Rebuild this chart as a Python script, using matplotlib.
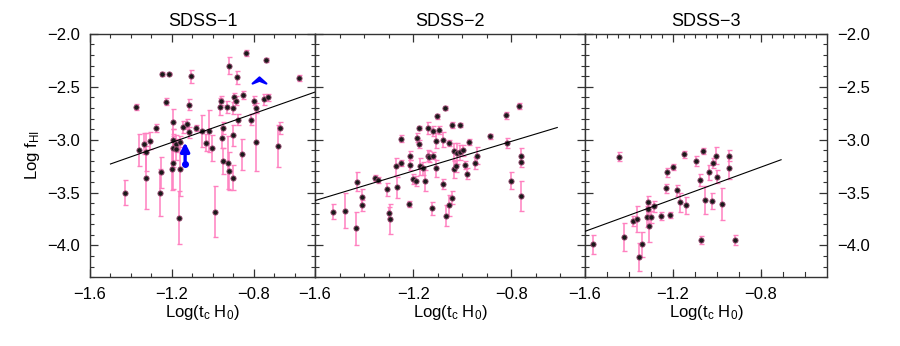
import numpy as np
import matplotlib
matplotlib.use("Agg")
import matplotlib.pyplot as plt
from matplotlib.ticker import MultipleLocator, FuncFormatter
from matplotlib.path import Path

plt.rcParams['font.family'] = ['Liberation Sans', 'DejaVu Sans']
plt.rcParams['mathtext.fontset'] = 'custom'
plt.rcParams['mathtext.rm'] = 'Liberation Sans'
plt.rcParams['mathtext.it'] = 'Liberation Sans'

#------------ DATA ------------
titles = ["SDSS\u22121", "SDSS\u22122", "SDSS\u22123"]

# SDSS-1
x1 = [-1.429, -1.376, -1.362, -1.336, -1.327, -1.326, -1.306, -1.277, -1.256, -1.251,
      -1.247, -1.228, -1.212, -1.200, -1.195, -1.194, -1.192, -1.192, -1.182, -1.182,
      -1.166, -1.159, -1.158, -1.143, -1.127, -1.115, -1.115, -1.105, -1.081, -1.053,
      -1.033, -1.016, -1.006, -0.991, -0.963, -0.960, -0.955, -0.952, -0.950, -0.931,
      -0.926, -0.921, -0.919, -0.903, -0.903, -0.903, -0.898, -0.885, -0.879, -0.877,
      -0.856, -0.854, -0.836, -0.813, -0.797, -0.790, -0.787, -0.751, -0.738, -0.730,
      -0.683, -0.673, -0.580]
y1 = [-3.50, -2.69, -3.10, -3.04, -3.12, -3.36, -3.01, -2.89, -3.50, -3.31,
      -2.38, -2.64, -2.38, -3.28, -3.08, -3.22, -2.83, -3.00, -3.04, -3.09,
      -3.74, -3.02, -3.28, -2.88, -2.85, -2.93, -2.67, -2.40, -2.89, -2.92,
      -3.03, -2.92, -3.08, -3.68, -2.69, -2.63, -2.98, -3.20, -2.89, -2.69,
      -3.22, -2.30, -3.30, -2.70, -2.96, -3.36, -2.60, -2.63, -2.41, -2.81,
      -3.14, -2.58, -2.18, -2.81, -2.63, -2.70, -3.02, -2.62, -2.25, -2.60,
      -3.06, -2.89, -2.42]
e1 = [0.12, 0.03, 0.15, 0.10, 0.18, 0.30, 0.08, 0.04, 0.22, 0.15,
      0.02, 0.03, 0.01, 0.20, 0.18, 0.25, 0.12, 0.10, 0.08, 0.10,
      0.25, 0.05, 0.25, 0.06, 0.05, 0.05, 0.05, 0.06, 0.03, 0.15,
      0.08, 0.20, 0.12, 0.24, 0.08, 0.04, 0.10, 0.12, 0.06, 0.06,
      0.25, 0.08, 0.18, 0.06, 0.10, 0.12, 0.04, 0.04, 0.06, 0.05,
      0.15, 0.04, 0.03, 0.05, 0.04, 0.05, 0.28, 0.05, 0.02, 0.03,
      0.20, 0.06, 0.03]

# SDSS-2
x2 = [-1.528, -1.478, -1.433, -1.430, -1.409, -1.407, -1.356, -1.345, -1.308, -1.298,
      -1.295, -1.268, -1.264, -1.249, -1.249, -1.219, -1.211, -1.211, -1.200, -1.190,
      -1.186, -1.176, -1.176, -1.173, -1.162, -1.151, -1.140, -1.139, -1.135, -1.125,
      -1.121, -1.119, -1.105, -1.105, -1.102, -1.094, -1.080, -1.080, -1.072, -1.067,
      -1.056, -1.056, -1.041, -1.040, -1.032, -1.032, -1.025, -1.021, -1.010, -1.010,
      -0.999, -0.990, -0.979, -0.972, -0.948, -0.942, -0.888, -0.822, -0.816, -0.803,
      -0.769, -0.761, -0.761, -0.759]
y2 = [-3.68, -3.67, -3.84, -3.40, -3.62, -3.54, -3.36, -3.38, -3.47, -3.69,
      -3.75, -3.25, -3.45, -3.22, -2.99, -3.61, -3.15, -3.24, -3.37, -3.39,
      -2.98, -2.89, -3.04, -3.25, -3.27, -3.39, -2.89, -3.15, -3.16, -3.65,
      -2.92, -3.15, -3.01, -3.27, -2.78, -2.91, -3.00, -3.42, -2.70, -3.72,
      -3.03, -3.62, -2.86, -3.55, -3.11, -3.28, -3.25, -3.13, -2.86, -3.12,
      -3.10, -3.24, -3.32, -3.02, -3.22, -3.15, -2.97, -2.77, -3.03, -3.39,
      -2.68, -3.15, -3.21, -3.53]
e2 = [0.07, 0.17, 0.16, 0.09, 0.05, 0.07, 0.03, 0.03, 0.06, 0.05,
      0.14, 0.08, 0.10, 0.03, 0.03, 0.03, 0.04, 0.05, 0.05, 0.05,
      0.04, 0.02, 0.04, 0.08, 0.06, 0.10, 0.06, 0.05, 0.05, 0.06,
      0.05, 0.03, 0.07, 0.08, 0.02, 0.04, 0.07, 0.05, 0.02, 0.10,
      0.03, 0.10, 0.03, 0.06, 0.08, 0.08, 0.06, 0.10, 0.02, 0.07,
      0.05, 0.04, 0.05, 0.03, 0.06, 0.08, 0.02, 0.03, 0.05, 0.08,
      0.03, 0.07, 0.05, 0.14]

# SDSS-3
x3 = [-1.564, -1.445, -1.425, -1.383, -1.364, -1.354, -1.342, -1.319, -1.316, -1.312,
      -1.309, -1.301, -1.287, -1.253, -1.232, -1.226, -1.214, -1.201, -1.182, -1.168,
      -1.150, -1.139, -1.096, -1.076, -1.071, -1.062, -1.056, -1.038, -1.025, -1.017,
      -1.007, -0.999, -0.976, -0.946, -0.946, -0.917]
y3 = [-3.99, -3.16, -3.92, -3.77, -3.75, -4.11, -3.99, -3.73, -3.66, -3.59,
      -3.82, -3.73, -3.63, -3.72, -3.46, -3.31, -3.71, -3.26, -3.48, -3.59,
      -3.14, -3.62, -3.20, -3.38, -3.95, -3.11, -3.57, -3.31, -3.58, -3.22,
      -3.15, -3.35, -3.61, -3.15, -3.27, -3.95]
e3 = [0.09, 0.04, 0.13, 0.05, 0.12, 0.13, 0.12, 0.10, 0.05, 0.06,
      0.15, 0.06, 0.05, 0.04, 0.04, 0.04, 0.03, 0.03, 0.05, 0.09,
      0.03, 0.08, 0.05, 0.06, 0.04, 0.03, 0.13, 0.07, 0.08, 0.05,
      0.08, 0.06, 0.15, 0.05, 0.10, 0.05]

# linear fits: intercept, slope, x range
fit_a = [-2.21, -2.456, -2.651]
fit_b = [0.68, 0.70, 0.76]
fit_x0 = [-1.50, -1.60, -1.60]
fit_x1 = [-0.50, -0.613, -0.709]

# blue limits in SDSS-1
lim_x = -1.135
lim_y = -3.23
lim_top = -3.00
chev_x = -0.774
chev_y = -2.44

#------------ PLOT ------------
pink = "#ff80c0"
fig = plt.figure(figsize=(9, 3.46), dpi=100)
bottom, height = 0.199, 0.703
lefts = [0.100, 0.350, 0.650]
widths = [0.250, 0.300, 0.269]
data = [(x1, y1, e1), (x2, y2, e2), (x3, y3, e3)]

minus_fmt = FuncFormatter(lambda v, p: f"{v:.1f}".replace("-", "\u2212"))

chevron = Path([(-1, -0.45), (0, 0.45), (1, -0.45), (0, -0.05), (-1, -0.45)],
               [Path.MOVETO, Path.LINETO, Path.LINETO, Path.LINETO, Path.CLOSEPOLY])

for i in range(3):
    ax = fig.add_axes([lefts[i], bottom, widths[i], height])
    x, y, e = data[i]
    ax.errorbar(x, y, yerr=e, fmt="none", ecolor=pink, elinewidth=1.1,
                capsize=1.8, capthick=1.0, zorder=2)
    ax.plot(x, y, "o", color="#1a1a1a", ms=3.8, mec="#a05078", mew=0.6, zorder=3)
    xf = np.array([fit_x0[i], fit_x1[i]])
    ax.plot(xf, fit_a[i] + fit_b[i] * xf, color="black", lw=0.8, zorder=4)

    if i == 0:
        ax.plot([lim_x], [lim_y], "o", color="blue", ms=4, zorder=5)
        ax.annotate("", xy=(lim_x, lim_top), xytext=(lim_x, lim_y),
                    arrowprops=dict(arrowstyle="-|>", color="blue", lw=2.4,
                                    mutation_scale=13), zorder=5)
        ax.plot([chev_x], [chev_y], marker=chevron, color="blue", mec="blue",
                mew=1.5, ms=10, zorder=5)

    ax.set_xlim(-1.6, -0.5)
    ax.set_ylim(-4.3, -2.0)
    ax.xaxis.set_major_locator(MultipleLocator(0.4))
    ax.xaxis.set_minor_locator(MultipleLocator(0.1))
    ax.yaxis.set_major_locator(MultipleLocator(0.5))
    ax.yaxis.set_minor_locator(MultipleLocator(0.1))
    ax.xaxis.set_major_formatter(minus_fmt)
    ax.yaxis.set_major_formatter(minus_fmt)
    ax.tick_params(which="both", direction="in", top=True, bottom=True,
                   left=True, right=True, colors="#333333", labelcolor="black",
                   labelsize=12)
    ax.tick_params(which="major", length=6, width=0.9, pad=7)
    ax.tick_params(which="minor", length=3, width=0.8)
    for s in ax.spines.values():
        s.set_color("#333333")
        s.set_linewidth(1.0)
    if i == 0:
        ax.tick_params(labelleft=True, labelright=False)
        ax.set_ylabel("Log f$_{\\rm HI}$", fontsize=12, labelpad=4)
    elif i == 1:
        ax.tick_params(labelleft=False, labelright=False)
    else:
        ax.tick_params(labelleft=False, labelright=True)
        ax.xaxis.set_minor_locator(MultipleLocator(0.05))
        ax.tick_params(which="minor", axis="x", bottom=False)
    ax.set_title(titles[i], fontsize=13, pad=6)
    ax.set_xlabel("Log(t$_{\\rm c}$ H$_0$)", fontsize=12, labelpad=1)

# SDSS-3 keeps 0.1 minor ticks along the bottom edge
ax3 = fig.axes[-1]
for xm in np.arange(-1.5, -0.5, 0.1):
    ax3.plot([xm, xm], [0, 0.022], transform=ax3.get_xaxis_transform(),
             color="#333333", lw=0.8, zorder=1, clip_on=False)

fig.savefig("out.png", dpi=100)
